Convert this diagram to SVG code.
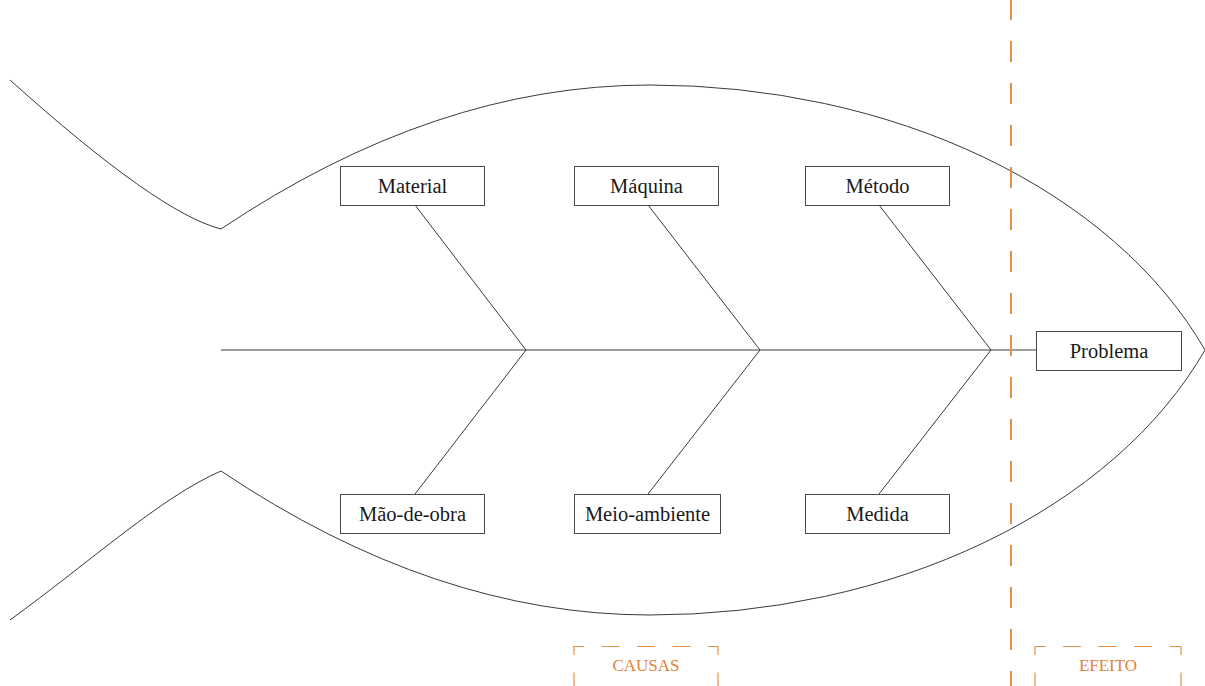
<svg xmlns="http://www.w3.org/2000/svg" width="1205" height="686" viewBox="0 0 1205 686">
  <style>
    .outline { fill: none; stroke: #3a3a3a; stroke-width: 1; }
    .bone { fill: none; stroke: #3a3a3a; stroke-width: 1; }
    .box { fill: #ffffff; stroke: #4a4a4a; stroke-width: 1; }
    .label { font-family: "Liberation Serif", "Times New Roman", serif; font-size: 20.5px; fill: #1a1a1a; text-anchor: middle; }
    .zone { fill: none; stroke: #e39148; stroke-width: 1.2; stroke-dasharray: 18 17.5; }
    .zone-label { font-family: "Liberation Serif", "Times New Roman", serif; font-size: 17px; fill: #e0833a; text-anchor: middle; }
    .divider { stroke: #e39148; stroke-width: 2; stroke-dasharray: 21 21; }
  </style>
  <rect width="1205" height="686" fill="#ffffff"/>

  <!-- fish outline: tail fins, then the body (parabolic back, elliptical head) -->
  <g id="fish">
    <path class="outline" d="M10,80 Q 158,213 221,229"/>
    <path class="outline" d="M10,620 C 90,562 161,497 221,471"/>
    <path class="outline" d="M221,229 Q 435.5,85 650,85 A 600 427 0 0 1 1205,350"/>
    <path class="outline" d="M221,471 Q 435.5,615 650,615 A 600 427 0 0 0 1205,350"/>
  </g>

  <!-- spine and bones -->
  <g id="connectors">
    <line class="bone" x1="221" y1="350" x2="1036" y2="350"/>
    <line class="bone" x1="415" y1="205" x2="526" y2="350"/>
    <line class="bone" x1="648" y1="205" x2="760" y2="350"/>
    <line class="bone" x1="879" y1="205" x2="991" y2="350"/>
    <line class="bone" x1="415" y1="494" x2="526" y2="350"/>
    <line class="bone" x1="648" y1="494" x2="760" y2="350"/>
    <line class="bone" x1="879" y1="494" x2="991" y2="350"/>
  </g>

  <!-- cause / effect divider -->
  <line id="divider" class="divider" x1="1011" y1="-1" x2="1011" y2="686"/>

  <g id="material">
    <rect class="box" x="340.5" y="166.5" width="144" height="39"/>
    <text class="label" x="412.5" y="193">Material</text>
  </g>
  <g id="maquina">
    <rect class="box" x="574.5" y="166.5" width="144" height="39"/>
    <text class="label" x="646.5" y="193">Máquina</text>
  </g>
  <g id="metodo">
    <rect class="box" x="805.5" y="166.5" width="144" height="39"/>
    <text class="label" x="877.5" y="193">Método</text>
  </g>
  <g id="mao-de-obra">
    <rect class="box" x="340.5" y="494.5" width="144" height="39"/>
    <text class="label" x="412.5" y="521">Mão-de-obra</text>
  </g>
  <g id="meio-ambiente">
    <rect class="box" x="574.5" y="494.5" width="146" height="39"/>
    <text class="label" x="647.5" y="521">Meio-ambiente</text>
  </g>
  <g id="medida">
    <rect class="box" x="805.5" y="494.5" width="144" height="39"/>
    <text class="label" x="877.5" y="521">Medida</text>
  </g>
  <g id="problema">
    <rect class="box" x="1036.5" y="331.5" width="145" height="39"/>
    <text class="label" x="1109" y="358">Problema</text>
  </g>

  <!-- dashed zone frames, open at the bottom edge of the page -->
  <g id="causas">
    <line class="zone" x1="574" y1="646.5" x2="718" y2="646.5" stroke-dashoffset="8"/>
    <line class="zone" x1="574" y1="646" x2="574" y2="700" stroke-dashoffset="9"/>
    <line class="zone" x1="718" y1="646" x2="718" y2="700" stroke-dashoffset="9"/>
    <text class="zone-label" x="646" y="671">CAUSAS</text>
  </g>
  <g id="efeito">
    <line class="zone" x1="1035" y1="646.5" x2="1181" y2="646.5" stroke-dashoffset="7.5"/>
    <line class="zone" x1="1035" y1="646" x2="1035" y2="700" stroke-dashoffset="9"/>
    <line class="zone" x1="1181" y1="646" x2="1181" y2="700" stroke-dashoffset="9"/>
    <text class="zone-label" x="1108" y="671">EFEITO</text>
  </g>
</svg>
